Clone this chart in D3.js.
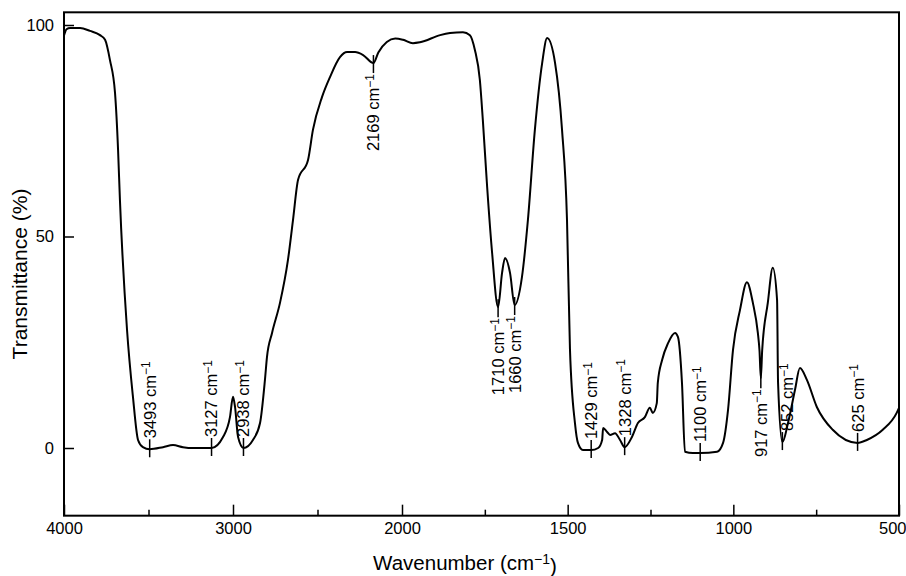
<!DOCTYPE html>
<html>
<head>
<meta charset="utf-8">
<script src="https://cdn.jsdelivr.net/npm/d3@7"></script>
<style>
  body { margin: 0; background: #fff; }
  svg { display: block; font-family: "Liberation Sans", Arial, sans-serif; }
</style>
</head>
<body>
<div id="chart"></div>
<script>
let w = 906,
    h = 576;

// spectrum (wavenumber in cm-1, transmittance in %)
let wavenumber = [4000, 3985, 3964, 3905, 3846, 3787, 3757, 3728, 3698, 3680, 3669, 3627, 3592, 3562, 3533,
  3493, 3414, 3355, 3296, 3237, 3127, 3059, 3018, 3000, 2988, 2970, 2938, 2882, 2840, 2811, 2799, 2769,
  2722, 2675, 2645, 2615, 2556, 2527, 2473, 2426, 2367, 2325, 2278, 2230, 2169, 2140, 2090, 2040, 1997,
  1967, 1946, 1885, 1855, 1816, 1795, 1780, 1765, 1756, 1743, 1728, 1710, 1698, 1689, 1674, 1660, 1638,
  1620, 1599, 1577, 1562, 1538, 1517, 1502, 1493, 1478, 1469, 1454, 1429, 1408, 1396, 1393, 1381, 1372,
  1357, 1342, 1328, 1306, 1288, 1267, 1252, 1243, 1231, 1228, 1215, 1197, 1176, 1167, 1155, 1146, 1122,
  1100, 1049, 1031, 1016, 1001, 980, 959, 941, 926, 921, 917, 913, 896, 881, 868, 865, 852, 835, 814,
  799, 778, 748, 700, 625, 597, 549, 507, 500];

let transmittance = [97.5, 99, 99.3, 99.3, 98.6, 97.6, 96.5, 91.7, 83.9, 70.4, 58.6, 27.9, 12.1, 1.9, 0.2,
  -0.3, 0.2, 0.7, 0.2, 0, 0, 2.6, 7.3, 12.1, 9.7, 2.6, 0, 1.9, 5.9, 16.1, 21.5, 27.2,
  34.3, 44.4, 53.9, 63.4, 68.1, 75.2, 83.0, 87.7, 92.4, 93.6, 93.6, 92.9, 91.0, 93.5, 96.0, 96.8, 96.5,
  95.7, 95.9, 97.6, 98.1, 98.3, 97.6, 94.1, 87.0, 77.5, 61.7, 46.1, 33.3, 41.4, 44.9, 41.4, 33.8, 40.4,
  53.9, 75.2, 91.0, 96.9, 91.0, 75.2, 53.9, 23.2, 5.9, 1.2, -0.5, -0.5, 0, 1.9, 4.7, 3.8, 3.1,
  3.5, 1.9, 0.2, 2.6, 5.9, 7.3, 9.5, 8.3, 10.6, 15.4, 20.8, 24.8, 27.2, 26.2, 15.4, -0.9, -1.2,
  -1.2, -0.9, 1.2, 9.0, 23.2, 32.6, 39.2, 34.3, 27.2, 23, 16.5, 23, 34.3, 42.6, 35.0, 15.4, 1.4, 5.9, 13.7,
  18.9, 16.1, 9.7, 4.3, 1.2, 1.9, 4.3, 8.3, 9.5];

// marked bands
let peaks = [3493, 3127, 2938, 2169, 1710, 1660, 1429, 1328, 1100, 917, 852, 625];
let peaksBelow = [2169, 1710, 1660, 917];   // label hangs under the band

// axis ticks
let xMajor = [4000, 3000, 2000, 1500, 1000, 500];
let xMinor = [3500, 2500, 1750, 1250, 750];
let yTicks = [0, 50, 100];

let data = wavenumber.map((d, i) => ({ wn: d, t: transmittance[i] }));

// the chart switches scale at 2000 cm-1
let x = d3.scaleLinear()
          .domain([4000, 2000, 500])
          .range([64, 402, 899]);

let y = d3.scaleLinear()
          .domain([0, 100])
          .range([448, 25]);

let frameTop = y(103),
    frameBottom = y(-16);

let svg = d3.select("#chart")
            .append("svg")
            .attr("width", w)
            .attr("height", h);

// minor ticks
svg.append("g")
   .attr("transform", "translate(0," + frameBottom + ")")
   .call(d3.axisBottom(x).tickValues(xMinor).tickSize(-6).tickFormat(""))
   .call(g => g.select(".domain").remove())
   .selectAll("line").attr("stroke-width", 1.5);

// major ticks + labels
svg.append("g")
   .attr("transform", "translate(0," + frameBottom + ")")
   .call(d3.axisBottom(x).tickValues(xMajor).tickSize(-11).tickPadding(7).tickFormat(d3.format("d")))
   .call(g => g.select(".domain").remove())
   .call(g => g.selectAll("line").attr("stroke-width", 1.5))
   .selectAll("text")
   .attr("font-size", 16.5)
   .attr("font-family", "Liberation Sans, Arial, sans-serif")
   .attr("fill", "#000")
   .filter(d => d == 500)
   .attr("text-anchor", "end")
   .attr("x", 906 - x(500));

svg.append("g")
   .attr("transform", "translate(" + x(4000) + ",0)")
   .call(d3.axisLeft(y).tickValues(yTicks).tickSize(-10).tickPadding(10))
   .call(g => g.select(".domain").remove())
   .call(g => g.selectAll("line").attr("stroke-width", 1.5))
   .selectAll("text")
   .attr("font-size", 16.5)
   .attr("font-family", "Liberation Sans, Arial, sans-serif")
   .attr("fill", "#000");

// frame
svg.append("rect")
   .attr("x", x(4000))
   .attr("y", frameTop)
   .attr("width", x(500) - x(4000))
   .attr("height", frameBottom - frameTop)
   .attr("fill", "none")
   .attr("stroke", "#000")
   .attr("stroke-width", 2);

let line = d3.line()
             .x(d => x(d.wn))
             .y(d => y(d.t))
             .curve(d3.curveMonotoneX);

svg.append("path")
   .datum(data)
   .attr("d", line)
   .attr("fill", "none")
   .attr("stroke", "#000")
   .attr("stroke-width", 2);

// band markers
let marks = svg.selectAll(".peak")
               .data(peaks)
               .enter()
               .append("g")
               .attr("class", "peak")
               .attr("transform", d => {
                 let p = data.find(e => e.wn == d);
                 return "translate(" + x(d) + "," + y(p.t) + ")";
               });

marks.append("line")
     .attr("y1", d => peaksBelow.includes(d) ? -8 : 8)
     .attr("y2", d => peaksBelow.includes(d) ? 10 : -10)
     .attr("stroke", "#000")
     .attr("stroke-width", 1.5);

let labels = marks.append("text")
     .attr("transform", d => d == 852 ? "translate(5,0) rotate(-90)" : "rotate(-90)")
     .attr("x", d => peaksBelow.includes(d) ? -11 : 11)
     .attr("dy", "0.36em")
     .attr("text-anchor", d => peaksBelow.includes(d) ? "end" : "start")
     .attr("font-size", 16.5)
     .attr("fill", "#000");

labels.append("tspan").text(d => d + " cm");
labels.append("tspan")
      .attr("dy", "-0.45em")
      .attr("font-size", 12)
      .text("\u22121");

// axis titles
let xt = svg.append("text")
   .attr("x", 465)
   .attr("y", 570)
   .attr("text-anchor", "middle")
   .attr("font-size", 20.5)
   .attr("fill", "#000");
xt.append("tspan").text("Wavenumber (cm");
xt.append("tspan").attr("dy", "-0.45em").attr("font-size", 14).text("\u22121");
xt.append("tspan").attr("dy", "0.45em").text(")");

svg.append("text")
   .attr("transform", "translate(27,274) rotate(-90)")
   .attr("text-anchor", "middle")
   .attr("font-size", 21)
   .attr("fill", "#000")
   .text("Transmittance (%)");
</script>
</body>
</html>
